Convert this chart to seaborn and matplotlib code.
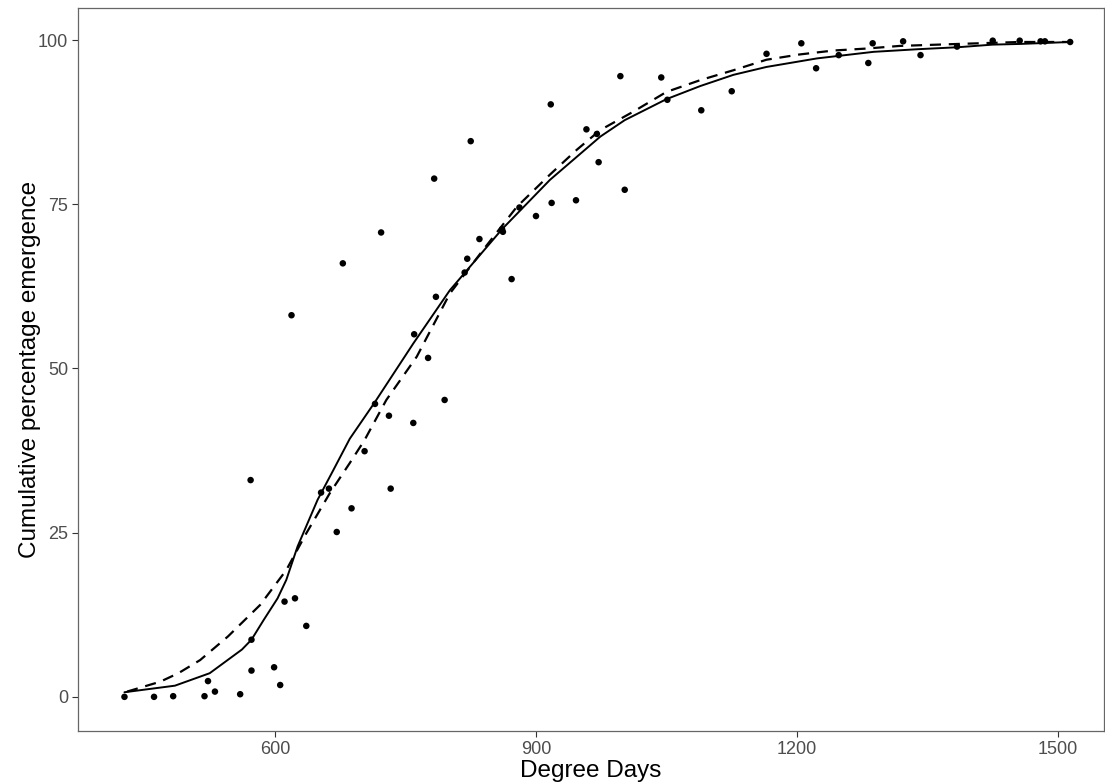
import matplotlib
matplotlib.use("Agg")
import matplotlib.pyplot as plt
import seaborn as sns
import pandas as pd

# Observed cumulative emergence
degree_days = [427, 461, 483, 519, 523, 531, 560, 573, 573, 599, 606, 611, 623, 636,
               572, 619, 653, 662, 671, 678, 688, 703, 715, 722, 731, 733, 759, 760,
               776, 783, 785, 795, 818, 821, 825, 835, 861, 862, 872, 881, 900, 917,
               918, 946, 958, 970, 972, 997, 1002, 1044, 1051, 1090, 1125, 1165, 1205,
               1222, 1248, 1282, 1287, 1322, 1342, 1384, 1425, 1456, 1480, 1485, 1514]
emergence = [0.0, 0.0, 0.1, 0.1, 2.4, 0.8, 0.4, 4.0, 8.7, 4.5, 1.8, 14.5, 15.0, 10.8,
             33.0, 58.1, 31.1, 31.7, 25.1, 66.0, 28.7, 37.4, 44.6, 70.7, 42.8, 31.7, 41.7, 55.2,
             51.6, 78.9, 60.9, 45.2, 64.6, 66.7, 84.6, 69.7, 71.2, 70.8, 63.6, 74.5, 73.2, 90.2,
             75.2, 75.6, 86.4, 85.7, 81.4, 94.5, 77.2, 94.3, 90.9, 89.3, 92.2, 97.9, 99.5,
             95.7, 97.7, 96.5, 99.5, 99.8, 97.7, 99.0, 99.9, 99.9, 99.8, 99.8, 99.7]

# Fitted model (solid)
fit_x = [427, 456, 485, 525, 562, 573, 587, 603, 613, 626, 649, 667, 686, 715, 759,
         801, 861, 916, 974, 1002, 1050, 1089, 1127, 1165, 1223, 1288, 1339, 1385,
         1425, 1456, 1514]
fit_y = [0.7, 1.2, 1.7, 3.6, 7.2, 8.7, 11.7, 15.0, 17.8, 22.9, 30.0, 34.5, 39.3, 44.9, 53.8,
         61.9, 71.2, 78.7, 85.3, 87.8, 91.0, 93.0, 94.7, 95.9, 97.2, 98.2, 98.6, 98.9,
         99.3, 99.4, 99.7]

# Second model (dashed)
fit2_x = [430, 468, 489, 514, 546, 583, 613, 636, 663, 686, 703, 728, 763, 801, 839,
          878, 916, 947, 974, 1012, 1050, 1089, 1127, 1165, 1203, 1242, 1280, 1318,
          1385, 1456, 1511]
fit2_y = [0.8, 2.3, 3.6, 5.6, 9.2, 14.0, 19.3, 24.9, 31.0, 35.6, 39.1, 45.2, 51.8, 61.4, 68.0,
          74.6, 79.5, 83.3, 86.3, 89.1, 92.1, 93.9, 95.4, 97.0, 97.8, 98.4, 98.7, 99.1,
          99.4, 99.7, 99.7]

obs = pd.DataFrame({"x": degree_days, "y": emergence})
m1 = pd.DataFrame({"x": fit_x, "y": fit_y})
m2 = pd.DataFrame({"x": fit2_x, "y": fit2_y})

sns.set_theme(style="white")
plt.rcParams["font.family"] = ["Liberation Sans", "DejaVu Sans"]

fig = plt.figure(figsize=(11.05, 7.84), dpi=100)
ax = fig.add_axes([78 / 1105, 53 / 784, (1104 - 78) / 1105, (731 - 7.5) / 784])

sns.lineplot(data=m1, x="x", y="y", ax=ax, color="black", linewidth=1.4,
             sort=False, estimator=None)
sns.lineplot(data=m2, x="x", y="y", ax=ax, color="black", linewidth=1.6,
             sort=False, estimator=None, dashes=False, linestyle=(0, (5, 3.5)))
sns.scatterplot(data=obs, x="x", y="y", ax=ax, color="black", s=22,
                edgecolor="none", zorder=3)

ax.set_xlim(373.6, 1552.9)
ax.set_ylim(-5.2, 104.95)
ax.set_xticks([600, 900, 1200, 1500])
ax.set_yticks([0, 25, 50, 75, 100])
ax.tick_params(axis="both", which="both", length=4, width=0.8, color="#333333",
               labelsize=13, labelcolor="#4D4D4D", direction="out", pad=3,
               bottom=True, left=True)
for sp in ax.spines.values():
    sp.set_visible(True)
    sp.set_color("#666666")
    sp.set_linewidth(0.9)
ax.grid(False)
ax.set_xlabel("Degree Days", fontsize=17.5, color="black", labelpad=2)
ax.set_ylabel("Cumulative percentage emergence", fontsize=17.5, color="black", labelpad=-2)

fig.savefig("out.png", dpi=100, facecolor="white")
